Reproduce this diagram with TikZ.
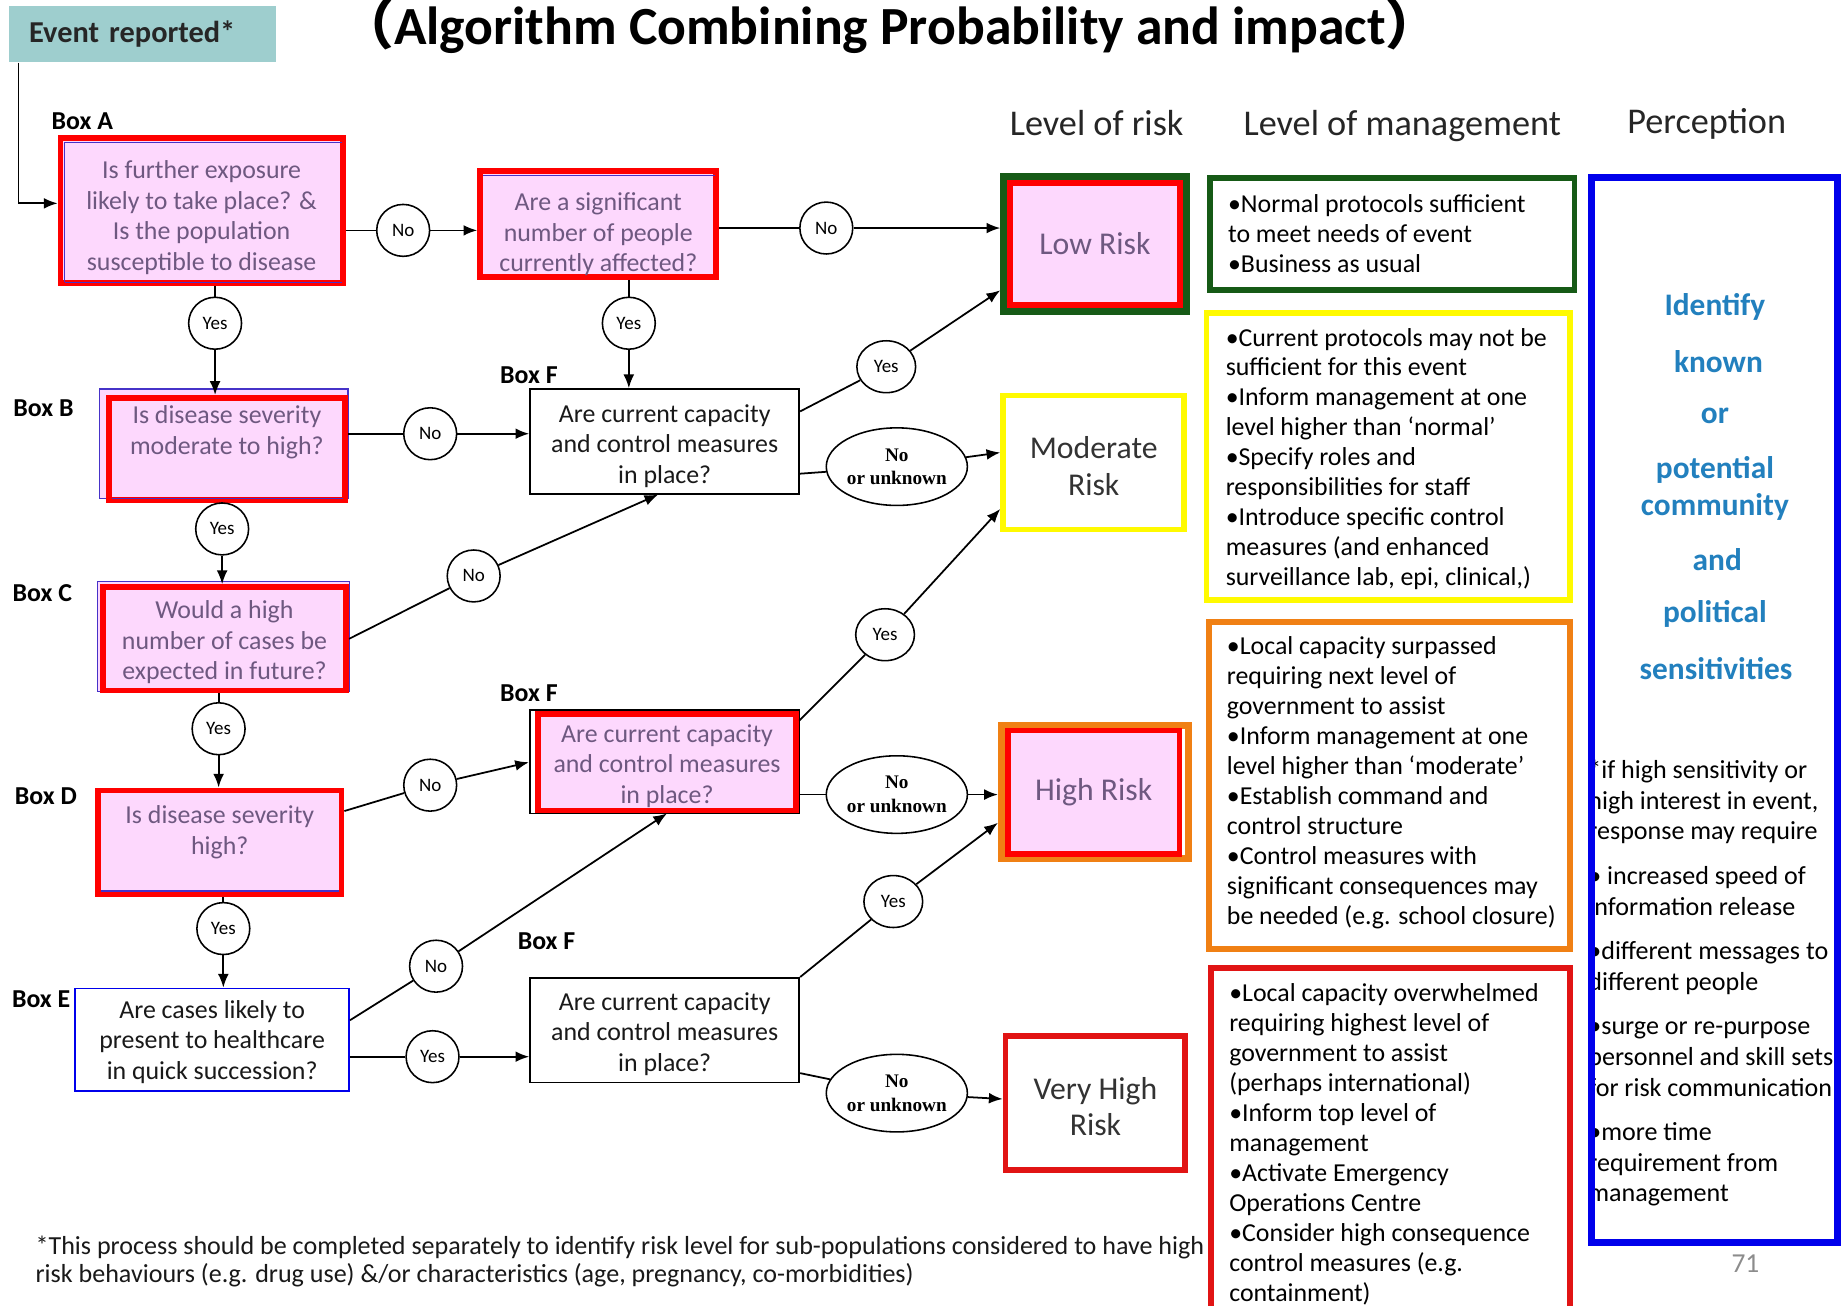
\documentclass[tikz,border=0pt]{standalone}
\usepackage{fontspec}
\setmainfont{Carlito}
\newfontfamily\tnr{Liberation Serif}
\newfontfamily\cjk{Noto Sans CJK SC}
\usetikzlibrary{shapes.geometric,arrows.meta,calc}
\definecolor{pinkfill}{RGB}{253,216,253}
\definecolor{qtext}{RGB}{110,88,128}
\definecolor{evfill}{RGB}{158,206,206}
\definecolor{rred}{RGB}{255,0,0}
\definecolor{dgreen}{RGB}{22,90,22}
\definecolor{yel}{RGB}{255,250,0}
\definecolor{orng}{RGB}{240,128,20}
\definecolor{bblue}{RGB}{0,0,235}
\definecolor{pblue}{RGB}{34,128,190}
\definecolor{mred}{RGB}{225,20,20}
\definecolor{thinblue}{RGB}{70,50,200}
\begin{document}
\begin{tikzpicture}[x=0.6pt,y=-0.6pt,
 qt/.style={align=center, inner sep=0pt, font=\fontsize{13.2}{15.6}\selectfont},
 q/.style={rectangle, inner sep=0pt},
 redq/.style={q, draw=rred, line width=3pt, fill=pinkfill},
 blkq/.style={q, draw=black, line width=0.9pt, fill=white},
 yn/.style={ellipse, draw, line width=0.8pt, fill=white, inner sep=0pt, minimum width=27pt, minimum height=26.5pt, font=\fontsize{9.7}{11}\selectfont},
 ynw/.style={yn, minimum width=30pt},
 nu/.style={ellipse, draw, line width=0.8pt, fill=white, inner sep=0pt, minimum width=62.4pt, minimum height=39.6pt, align=center, font=\tnr\bfseries\fontsize{9.8}{12}\selectfont},
 ln/.style={line width=0.9pt},
 conn/.style={line width=0.9pt, -{Latex[length=7pt,width=5.5pt]}},
 boxlbl/.style={font=\bfseries\fontsize{13.2}{15}\selectfont, inner sep=0pt},
 hdr/.style={font=\fontsize{18.5}{21}\selectfont, text=black!85, inner sep=0pt},
 riskbox/.style={rectangle, inner sep=0pt, align=center, font=\fontsize{16.2}{18.6}\selectfont},
 mbox/.style={rectangle, inner sep=0pt, line width=3pt},
 mtext/.style={align=left, anchor=west, inner sep=0pt, font=\fontsize{13.2}{15.3}\selectfont, text=black},
 pword/.style={font=\bfseries\fontsize{16}{19}\selectfont, text=pblue, inner sep=0pt},
]
\useasboundingbox[fill=white] (0,0) rectangle (1568,1111);

% title
\node[font=\bfseries\fontsize{27.4}{31}\selectfont, inner sep=0pt] (title) at (757,22) {{\cjk （}Algorithm Combining Probability and impact{\cjk ）}};

% event reported
\node[fill=evfill, minimum width=136.2pt, minimum height=28.8pt, inner xsep=10pt, inner ysep=0pt, text width=116pt, align=left, font=\bfseries\fontsize{15.5}{17}\selectfont, text=black!85] (ev) at (121.5,29) {Event reported*};

% box labels
\node[boxlbl] (lA) at (70,103) {Box A};
\node[boxlbl] (lB) at (37,347) {Box B};
\node[boxlbl] (lC) at (36,505) {Box C};
\node[boxlbl] (lD) at (39,677) {Box D};
\node[boxlbl] (lE) at (35,850) {Box E};
\node[boxlbl] (lF1) at (450,319) {Box F};
\node[boxlbl] (lF2) at (450,590) {Box F};
\node[boxlbl] (lF3) at (465,801) {Box F};

% thin frames behind question boxes
\draw[thinblue, fill=pinkfill, line width=0.6pt] (85,331) rectangle (296,424);
\draw[thinblue, fill=pinkfill, line width=0.6pt] (83,495) rectangle (297,588);
\draw[black, line width=0.9pt] (451,604) rectangle (680,692);

% question boxes
\node[redq, minimum width=144pt, minimum height=73.8pt] (A) at (171.5,179) {};
\draw[thinblue, line width=0.6pt] (55,121) -- (291,121) (55,240) -- (291,240) (55,121) -- (55,240);
\node[qt, text=qtext] (At) at ([yshift=-3.6pt]A.center) {Is further exposure\\likely to take place? \&\\Is the population\\susceptible to disease};

\node[redq, minimum width=120.6pt, minimum height=54pt] (B2) at (509,190.5) {};
\draw[thinblue, line width=0.6pt] (411,149) -- (608,149);
\node[qt, text=qtext] (B2t) at ([yshift=-5.4pt]B2.center) {Are a significant\\number of people\\currently affected?};

\node[redq, minimum width=120.6pt, minimum height=52.2pt] (B) at (193,382) {};
\draw[thinblue, line width=0.6pt] (95,424) -- (292,424);
\node[qt, text=qtext] (Bt) at ([yshift=8.7pt]B.center) {Is disease severity\\moderate to high?};

\node[redq, minimum width=124.2pt, minimum height=52.8pt] (C) at (191,543.5) {};
\node[qt, text=qtext] (Ct) at ([yshift=-1.8pt]C.center) {Would a high\\number of cases be\\expected in future?};

\node[redq, minimum width=124.2pt, minimum height=52.8pt] (D) at (187,716.5) {};
\draw[thinblue, line width=1pt] (86,758) -- (288,758);
\node[qt, text=qtext] (Dt) at ([yshift=5.1pt]D.center) {Is disease severity\\high?};

\node[q, draw=bblue, line width=0.9pt, fill=white, minimum width=139.8pt, minimum height=52.2pt] (E) at (180.5,884.5) {};
\node[qt, text=black!90] (Et) at ([yshift=-1.2pt]E.center) {Are cases likely to\\present to healthcare\\in quick succession?};

\node[blkq, minimum width=137.4pt, minimum height=53.4pt] (F1) at (565.5,375.5) {};
\node[qt, text=black!90] (F1t) at ([yshift=-2.4pt]F1.center) {Are current capacity\\and control measures\\in place?};

\node[redq, minimum width=132pt, minimum height=49.2pt] (F2) at (567.5,648.5) {};
\node[qt, text=qtext] (F2t) at ([yshift=-1.8pt]F2.center) {Are current capacity\\and control measures\\in place?};

\node[blkq, minimum width=137.4pt, minimum height=53.4pt] (F3) at (565.5,876.5) {};
\node[qt, text=black!90] (F3t) at ([yshift=-1.8pt]F3.center) {Are current capacity\\and control measures\\in place?};

% risk boxes
\node[hdr] (hR) at (933,105) {Level of risk};
\node[riskbox, draw=dgreen, line width=3.6pt, minimum width=93pt, minimum height=69pt] (low) at (931.5,207.5) {};
\node[riskbox, draw=rred, line width=3pt, fill=pinkfill, text=qtext, minimum width=87pt, minimum height=62.4pt] (lowin) at (low.center) {Low Risk};
\node[riskbox, draw=yel, line width=3pt, fill=white, minimum width=92.4pt, minimum height=68.4pt] (mod) at (930.5,393.5) {};
\node[riskbox, text=black!80] (modt) at ([yshift=-1.8pt]mod.center) {Moderate\\Risk};
\node[riskbox, draw=orng, line width=3.6pt, minimum width=95.4pt, minimum height=67.8pt] (high) at (931.5,673.5) {};
\node[riskbox, draw=rred, line width=3pt, fill=pinkfill, text=qtext, minimum width=87.6pt, minimum height=63pt] (highin) at (930.5,674) {High Risk};
\node[riskbox, draw=mred, line width=3pt, fill=white, minimum width=91.8pt, minimum height=68.4pt] (vh) at (932,938.5) {};
\node[riskbox, text=black!80] (vht) at ([yshift=-1.8pt]vh.center) {Very High\\Risk};

% management
\node[hdr] (hM) at (1193,107) {Level of management};
\node[mbox, draw=dgreen, minimum width=186pt, minimum height=57pt] (mG) at (1184.5,199) {};
\node[mtext] (tG) at ([xshift=10.5pt]mG.west) {•Normal protocols sufficient\\to meet needs of event\\•Business as usual};
\node[mbox, draw=yel, minimum width=185.4pt, minimum height=146.4pt] (mY) at (1181,388.5) {};
\node[mtext] (tY) at ([xshift=11.1pt,yshift=-1.2pt]mY.west) {•Current protocols may not be\\sufficient for this event\\•Inform management at one\\level higher than ‘normal’\\•Specify roles and\\responsibilities for staff\\•Introduce specific control\\measures (and enhanced\\surveillance lab, epi, clinical,)};
\node[mbox, draw=orng, minimum width=184.2pt, minimum height=166.8pt] (mO) at (1182,668.5) {};
\node[mtext] (tO) at ([xshift=10.5pt,yshift=1.5pt]mO.west) {•Local capacity surpassed\\requiring next level of\\government to assist\\•Inform management at one\\level higher than ‘moderate’\\•Establish command and\\control structure\\•Control measures with\\significant consequences may\\be needed (e.g. school closure)};
\node[mbox, draw=mred, minimum width=183pt, minimum height=175.2pt] (mR) at (1183,969.5) {};
\node[mtext] (tR) at ([xshift=10.5pt,yshift=-2.4pt]mR.west) {•Local capacity overwhelmed\\requiring highest level of\\government to assist\\(perhaps international)\\•Inform top level of\\management\\•Activate Emergency\\Operations Centre\\•Consider high consequence\\control measures (e.g.\\containment)};

% perception
\node[hdr] (hP) at (1452,105) {Perception};
\node[pword] (p1) at (1459,261) {Identify};
\node[pword] (p2) at (1462,308) {known};
\node[pword] (p3) at (1459,354) {or};
\node[pword] (p4) at (1459,400) {potential};
\node[pword] (p5) at (1459,431) {community};
\node[pword] (p6) at (1461,476) {and};
\node[pword] (p7) at (1459,522) {political};
\node[pword] (p8) at (1460,569) {sensitivities};
\node[anchor=north west, align=left, inner sep=0pt, font=\fontsize{13.3}{15.6}\selectfont, text=black] (pt) at (1351,644) {\strut*if high sensitivity or\\high interest in event,\\response may require\\[7.2pt]• increased speed of\\information release\\[7.2pt]•different messages to\\different people\\[7.2pt]•surge or re-purpose\\personnel and skill sets\\for risk communication\\[7.2pt]•more time\\requirement from\\management};
\node[mbox, draw=bblue, line width=3.6pt, minimum width=125.4pt, minimum height=543.6pt] (pb) at (1458.5,604) {};
\node[font=\fontsize{14}{16}\selectfont, text=black!45, inner sep=0pt] (pg) at (1485,1075) {71};

% footnote
\node[anchor=north west, align=left, inner sep=0pt, font=\fontsize{13.3}{14.4}\selectfont, text=black!90] (fn) at (30,1050) {\strut*This process should be completed separately to identify risk level for sub-populations considered to have high\\risk behaviours (e.g. drug use) \&/or characteristics (age, pregnancy, co-morbidities)};

% decision circles
\node[yn] (noA) at (343,196) {No};
\node[yn] (no2) at (703,194) {No};
\node[yn] (yesA) at (183,275) {Yes};
\node[yn] (yes2) at (535,275) {Yes};
\node[yn] (noB) at (366,369) {No};
\node[ynw] (yesF1) at (754,312) {Yes};
\node[nu] (nuF1) at (763,397) {No\\or unknown};
\node[yn] (yesB) at (189,450) {Yes};
\node[yn] (noC) at (403,490) {No};
\node[yn] (yesC) at (186,620) {Yes};
\node[yn] (noD) at (366,668) {No};
\node[ynw] (yesF2) at (753,540) {Yes};
\node[nu] (nuF2) at (763,676) {No\\or unknown};
\node[yn] (yesD) at (190,790) {Yes};
\node[yn] (noE) at (371,822) {No};
\node[yn] (yesE) at (368,899) {Yes};
\node[ynw] (yesF3) at (760,767) {Yes};
\node[nu] (nuF3) at (763,930) {No\\or unknown};

% connectors
\draw[conn] ([xshift=4.8pt]ev.south west) |- ([yshift=3.6pt]A.west);
\draw[ln] (A.east |- noA) -- (noA);
\draw[conn] (noA) -- (B2.west |- noA);
\draw[ln] (B2.east |- no2) -- (no2);
\draw[conn] (no2) -- (low.west |- no2);
\draw[ln] (A.south -| yesA) -- (yesA);
\draw[conn] (yesA) -- (B.north -| yesA);
\draw[ln] (B2.south -| yes2) -- (yes2);
\draw[conn] (yes2) -- (F1.north -| yes2);
\draw[ln] (B.east |- noB) -- (noB);
\draw[conn] (noB) -- (F1.west |- noB);
\draw[ln] ([yshift=15.3pt]F1.east) -- (yesF1);
\draw[conn] (yesF1) -- ([yshift=-23.7pt]low.west);
\draw[ln] ([yshift=-16.5pt]F1.east) -- (nuF1);
\draw[conn] (nuF1) -- ([yshift=5.1pt]mod.west);
\draw[ln] (B.south -| yesB) -- (yesB);
\draw[conn] (yesB) -- (C.north -| yesB);
\draw[ln] (C.east) -- (noC);
\draw[conn] (noC) -- ([xshift=-3.3pt]F1.south);
\draw[ln] (C.south -| yesC) -- (yesC);
\draw[conn] (yesC) -- (D.north -| yesC);
\draw[ln] ([yshift=15.9pt]D.east) -- (noD);
\draw[conn] (noD) -- ([xshift=-3pt]F2.west);
\draw[ln] ([yshift=-4.8pt]F2.north east) -- (yesF2);
\draw[conn] (yesF2) -- ([yshift=-23.7pt]mod.west);
\draw[ln] (F2.east |- nuF2) -- (nuF2);
\draw[conn] (nuF2) -- (high.west |- nuF2);
\draw[ln] (D.south -| yesD) -- (yesD);
\draw[conn] (yesD) -- (E.north -| yesD);
\draw[ln] ([yshift=9.9pt]E.east) -- (noE);
\draw[conn] (noE) -- (F2.south);
\draw[ln] (E.east |- yesE) -- (yesE);
\draw[conn] (yesE) -- (F3.west |- yesE);
\draw[ln] (F3.north east) -- (yesF3);
\draw[conn] (yesF3) -- ([yshift=-15.9pt]high.west);
\draw[ln] ([yshift=-21.9pt]F3.east) -- (nuF3);
\draw[conn] (nuF3) -- ([yshift=2.1pt]vh.west);
\end{tikzpicture}
\end{document}
